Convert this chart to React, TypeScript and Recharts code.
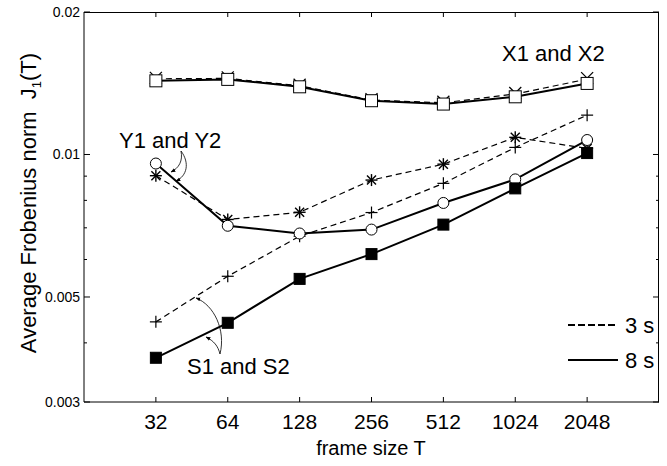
import { LineChart, Line, XAxis, YAxis } from 'recharts';

// frame sizes T on the x axis (log2 spacing)
const frameSizes = [32, 64, 128, 256, 512, 1024, 2048];

// 3 s signals (dashed) and 8 s signals (solid)
const x1 = [0.01445, 0.01448, 0.01397, 0.01303, 0.01286, 0.01342, 0.01443];
const x2 = [0.01431, 0.01441, 0.0139, 0.01299, 0.01278, 0.01324, 0.01413];
const y1 = [0.00902, 0.00729, 0.00755, 0.00883, 0.00954, 0.01087, 0.0103];
const y2 = [0.00957, 0.00707, 0.00681, 0.00694, 0.0079, 0.00886, 0.01073];
const s1 = [0.00443, 0.00553, 0.00672, 0.00754, 0.00869, 0.01035, 0.01211];
const s2 = [0.00372, 0.00441, 0.00546, 0.00616, 0.00711, 0.00848, 0.01007];

const xDomain = [16, 4096];
const yDomain = [0.003, 0.02];
const yMajorTicks = [0.003, 0.005, 0.01, 0.02];
const yTicks = [0.003, 0.004, 0.005, 0.006, 0.007, 0.008, 0.009, 0.01, 0.02];
const yTickLabels: Record<string, string> = {
  '0.003': '0.003',
  '0.005': '0.005',
  '0.01': '0.01',
  '0.02': '0.02',
};

const data = frameSizes.map((t, i) => ({
  t,
  x1: x1[i],
  x2: x2[i],
  y1: y1[i],
  y2: y2[i],
  s1: s1[i],
  s2: s2[i],
}));

const FONT = '"Liberation Sans", Arial, Helvetica, sans-serif';
const INK = '#000';
const W = 667;
const H = 466;
const MARGIN = { top: 12, right: 8, bottom: 0, left: 0 };
const Y_AXIS_W = 84;
const X_AXIS_H = 64;
// plot box edges, derived from the layout above
const BOX = {
  left: MARGIN.left + Y_AXIS_W,
  top: MARGIN.top,
  right: W - MARGIN.right,
  bottom: H - MARGIN.bottom - X_AXIS_H,
};

// ---- markers ----
const HollowSquare = (p: any) => (
  <rect key={p.key ?? p.index} x={p.cx - 6} y={p.cy - 6} width={12} height={12} fill="#fff" stroke={INK} strokeWidth={1} />
);
const FilledSquare = (p: any) => (
  <rect key={p.key ?? p.index} x={p.cx - 5.5} y={p.cy - 5.5} width={11} height={11} fill={INK} stroke={INK} />
);
const HollowCircle = (p: any) => (
  <circle key={p.key ?? p.index} cx={p.cx} cy={p.cy} r={5.5} fill="#fff" stroke={INK} strokeWidth={1} />
);
const Plus = (p: any) => (
  <g key={p.key ?? p.index} stroke={INK} strokeWidth={1.2}>
    <line x1={p.cx - 6} x2={p.cx + 6} y1={p.cy} y2={p.cy} />
    <line x1={p.cx} x2={p.cx} y1={p.cy - 6} y2={p.cy + 6} />
  </g>
);
const Cross = (p: any) => (
  <g key={p.key ?? p.index} stroke={INK} strokeWidth={1.2}>
    <line x1={p.cx - 6} x2={p.cx + 6} y1={p.cy - 7} y2={p.cy + 5} />
    <line x1={p.cx + 6} x2={p.cx - 6} y1={p.cy - 7} y2={p.cy + 5} />
  </g>
);
const Asterisk = (p: any) => (
  <g key={p.key ?? p.index} stroke={INK} strokeWidth={1.4}>
    <line x1={p.cx - 6} x2={p.cx + 6} y1={p.cy} y2={p.cy} />
    <line x1={p.cx} x2={p.cx} y1={p.cy - 6} y2={p.cy + 6} />
    <line x1={p.cx - 4.5} x2={p.cx + 4.5} y1={p.cy - 4.5} y2={p.cy + 4.5} />
    <line x1={p.cx + 4.5} x2={p.cx - 4.5} y1={p.cy - 4.5} y2={p.cy + 4.5} />
  </g>
);

// ---- inward ticks (matlab style), mirrored on the top and right box edges ----
const BottomTick = ({ x, y, payload }: any) => (
  <g>
    <path d={`M${x},${y}v-5M${x},${BOX.top}v5`} stroke={INK} strokeWidth={1} fill="none" />
    <text x={x} y={y + 27} textAnchor="middle" fontSize={21} fontFamily={FONT} fill={INK}>
      {payload.value}
    </text>
  </g>
);

const LeftTick = ({ x, y, payload }: any) => {
  const major = yMajorTicks.includes(payload.value);
  const len = major ? 6 : 3;
  return (
    <g>
      <path d={`M${x},${y}h${len}M${BOX.right},${y}h${-len}`} stroke={INK} strokeWidth={1} fill="none" />
      {major && (
        <text x={x - 4} y={y + 5} textAnchor="end" fontSize={14} fontFamily={FONT} fill={INK}>
          {yTickLabels[String(payload.value)]}
        </text>
      )}
    </g>
  );
};

const dashed = { stroke: INK, strokeWidth: 1.2, strokeDasharray: '6 4' };
const solid = { stroke: INK, strokeWidth: 2 };

export default function App() {
  return (
    <div style={{ position: 'absolute', left: 0, top: 0, width: W, height: H, background: '#fff' }}>
      <LineChart width={W} height={H} data={data} margin={MARGIN}>
        <XAxis
          dataKey="t"
          type="number"
          scale="log"
          domain={xDomain}
          ticks={frameSizes}
          interval={0}
          height={X_AXIS_H}
          tickSize={0}
          tickMargin={0}
          tickLine={false}
          tick={<BottomTick />}
          axisLine={{ stroke: INK }}
          allowDataOverflow
        />
        <YAxis
          type="number"
          scale="log"
          domain={yDomain}
          ticks={yTicks}
          interval={0}
          width={Y_AXIS_W}
          tickSize={0}
          tickMargin={0}
          tickLine={false}
          tick={<LeftTick />}
          axisLine={{ stroke: INK }}
          allowDataOverflow
        />

        <Line dataKey="x1" type="linear" {...dashed} dot={Cross} activeDot={false} isAnimationActive={false} />
        <Line dataKey="x2" type="linear" {...solid} dot={HollowSquare} activeDot={false} isAnimationActive={false} />
        <Line dataKey="y1" type="linear" {...dashed} dot={Asterisk} activeDot={false} isAnimationActive={false} />
        <Line dataKey="s1" type="linear" {...dashed} dot={Plus} activeDot={false} isAnimationActive={false} />
        <Line dataKey="y2" type="linear" {...solid} dot={HollowCircle} activeDot={false} isAnimationActive={false} />
        <Line dataKey="s2" type="linear" {...solid} dot={FilledSquare} activeDot={false} isAnimationActive={false} />
      </LineChart>

      {/* top and right edges of the axes box */}
      <div
        style={{
          position: 'absolute',
          left: BOX.left,
          top: BOX.top,
          width: BOX.right - BOX.left,
          height: BOX.bottom - BOX.top,
          borderTop: `1px solid ${INK}`,
          borderRight: `1px solid ${INK}`,
          boxSizing: 'border-box',
          pointerEvents: 'none',
        }}
      />

      {/* annotations, axis titles and legend */}
      <svg
        width={W}
        height={H}
        style={{ position: 'absolute', left: 0, top: 0, pointerEvents: 'none' }}
        fontFamily={FONT}
        fill={INK}
      >
        <defs>
          <marker id="head" viewBox="0 0 10 10" refX="9" refY="5" markerWidth="6" markerHeight="6" orient="auto">
            <path d="M0,1 L10,5 L0,9 z" fill={INK} />
          </marker>
        </defs>

        <text x={502} y={61} fontSize={22}>X1 and X2</text>
        <text x={119} y={148} fontSize={22}>Y1 and Y2</text>
        <text x={187} y={374} fontSize={22}>S1 and S2</text>

        <g fill="none" stroke={INK} strokeWidth={0.8} markerEnd="url(#head)">
          <path d="M181,151 C183,161 179,168 171,172" />
          <path d="M181,151 C190,163 187,176 176,181" />
          <path d="M220,354 C226,330 214,305 196,298" />
          <path d="M220,354 C218,346 214,341 206,337" />
        </g>

        <text x={371} y={455} fontSize={20} textAnchor="middle">frame size T</text>
        <text transform="translate(36,203) rotate(-90)" fontSize={22} textAnchor="middle">
          Average Frobenius norm {'\u00a0'}J
          <tspan fontSize={13} dy={5}>1</tspan>
          <tspan dy={-5}>(T)</tspan>
        </text>

        <line x1={568} x2={618} y1={325} y2={325} stroke={INK} strokeWidth={2} strokeDasharray="7 3" />
        <text x={625} y={333} fontSize={22}>3 s</text>
        <line x1={568} x2={618} y1={360} y2={360} stroke={INK} strokeWidth={2} />
        <text x={625} y={368} fontSize={22}>8 s</text>
      </svg>
    </div>
  );
}
